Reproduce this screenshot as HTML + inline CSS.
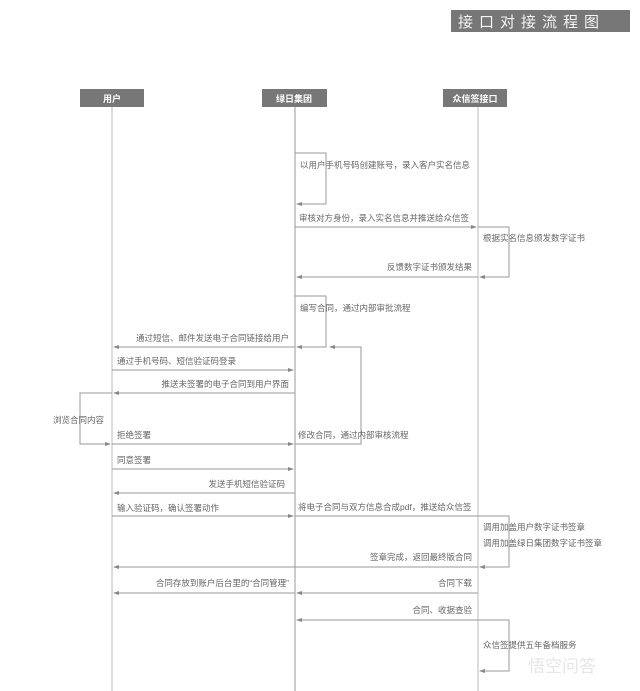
<!DOCTYPE html>
<html><head><meta charset="utf-8"><style>
html,body{margin:0;padding:0;background:#fff;}
svg{display:block;}
text{font-family:"Liberation Sans","Noto Sans CJK SC",sans-serif;font-size:8.5px;fill:#666;}
.h{fill:#fff;font-size:9px;font-weight:bold;}
.t{fill:#f4f4f4;font-size:15px;letter-spacing:6px;}
</style></head><body>
<svg width="640" height="691" viewBox="0 0 640 691" xmlns="http://www.w3.org/2000/svg">
<defs><marker id="a" markerWidth="6" markerHeight="4" refX="5" refY="2" orient="auto" markerUnits="userSpaceOnUse"><path d="M0,0 L6,2 L0,4z" fill="#888"/></marker></defs>
<rect x="451" y="10" width="179" height="22" fill="#777"/>
<text x="458" y="27" class="t">接口对接流程图</text>
<g fill="#777">
<rect x="80" y="89" width="64" height="18"/>
<rect x="262" y="89" width="65" height="18"/>
<rect x="443" y="89" width="64" height="18"/>
</g>
<text x="112" y="102" class="h" text-anchor="middle">用户</text>
<text x="294" y="102" class="h" text-anchor="middle">绿日集团</text>
<text x="475" y="102" class="h" text-anchor="middle">众信签接口</text>
<g stroke="#bbb" stroke-width="1" fill="none">
<line x1="112" y1="107" x2="112" y2="691"/>
<line x1="295" y1="107" x2="295" y2="691" stroke="#999"/>
<line x1="478" y1="107" x2="478" y2="691"/>
</g>
<g stroke="#999" stroke-width="1" fill="none" marker-end="url(#a)">
<polyline points="295,153 326,153 326,204 297,204"/>
<line x1="295" y1="227" x2="476" y2="227"/>
<polyline points="478,227 509,227 509,277 480,277"/>
<line x1="478" y1="277" x2="297" y2="277"/>
<polyline points="295,296 326,296 326,347 297,347"/>
<line x1="295" y1="347" x2="114" y2="347"/>
<polyline points="295,444 361,444 361,347 330,347"/>
<line x1="112" y1="370" x2="293" y2="370"/>
<line x1="295" y1="393" x2="114" y2="393"/>
<polyline points="112,393 80,393 80,444 110,444"/>
<line x1="112" y1="444" x2="293" y2="444"/>
<line x1="112" y1="469" x2="293" y2="469"/>
<line x1="295" y1="493" x2="114" y2="493"/>
<line x1="112" y1="516" x2="293" y2="516"/>
<polyline points="295,516 509,516 509,567 480,567"/>
<line x1="478" y1="567" x2="114" y2="567"/>
<line x1="478" y1="593" x2="297" y2="593"/>
<line x1="295" y1="593" x2="114" y2="593"/>
<line x1="478" y1="620" x2="297" y2="620"/>
<polyline points="478,620 509,620 509,671 480,671"/>
</g>
<text x="300" y="168">以用户手机号码创建账号，录入客户实名信息</text>
<text x="299" y="221">审核对方身份，录入实名信息并推送给众信签</text>
<text x="483" y="241">根据实名信息颁发数字证书</text>
<text x="472" y="270" text-anchor="end">反馈数字证书颁发结果</text>
<text x="300" y="311">编写合同，通过内部审批流程</text>
<text x="289" y="341" text-anchor="end">通过短信、邮件发送电子合同链接给用户</text>
<text x="117" y="364">通过手机号码、短信验证码登录</text>
<text x="289" y="387" text-anchor="end">推送未签署的电子合同到用户界面</text>
<text x="53" y="423">浏览合同内容</text>
<text x="117" y="438">拒绝签署</text>
<text x="298" y="438">修改合同，通过内部审核流程</text>
<text x="117" y="463">同意签署</text>
<text x="285" y="487" text-anchor="end">发送手机短信验证码</text>
<text x="117" y="511">输入验证码，确认签署动作</text>
<text x="298" y="510">将电子合同与双方信息合成pdf，推送给众信签</text>
<text x="483" y="530">调用加盖用户数字证书签章</text>
<text x="483" y="546">调用加盖绿日集团数字证书签章</text>
<text x="472" y="560" text-anchor="end">签章完成，返回最终版合同</text>
<text x="289" y="586" text-anchor="end">合同存放到账户后台里的“合同管理”</text>
<text x="472" y="586" text-anchor="end">合同下载</text>
<text x="472" y="613" text-anchor="end">合同、收据查验</text>
<text x="483" y="648">众信签提供五年备档服务</text>
<text x="528" y="672" style="fill:#e6e6e6;font-size:17px;">悟空问答</text>
</svg>
</body></html>
